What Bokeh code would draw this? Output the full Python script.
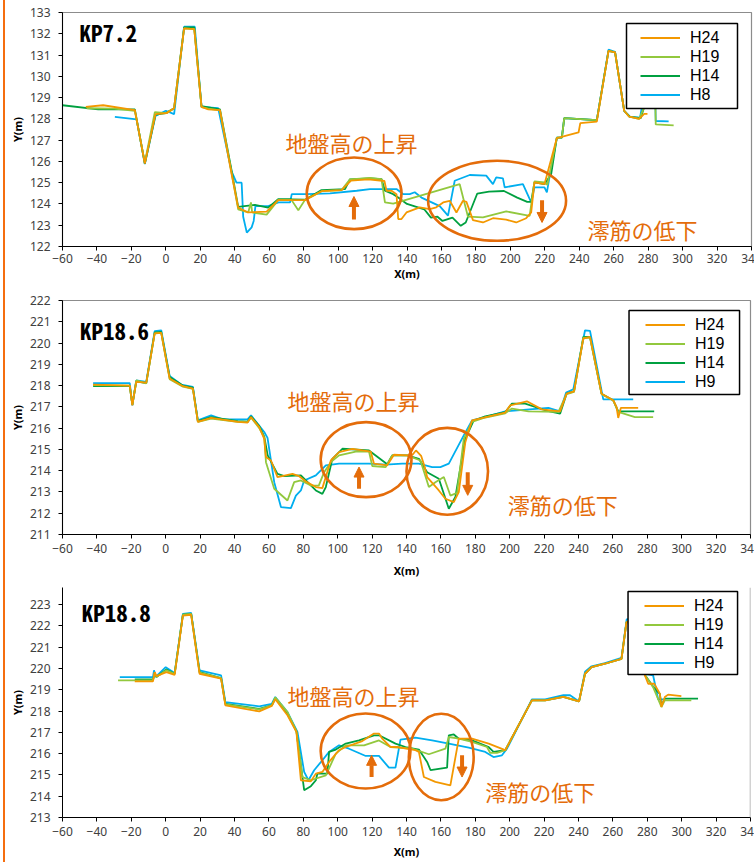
from bokeh.plotting import figure
from bokeh.models import (Range1d, SingleIntervalTicker, Label, Arrow, NormalHead,
                          Legend, LegendItem, BoxAnnotation, Span, Div)
from bokeh.layouts import row, column
from bokeh.embed import file_html
from bokeh.resources import INLINE

# ---- cross-section survey data: (X [m], elevation Y [m]) ----
KP72_H24 = [(-46.5,128.56),(-36.4,128.64),(-18,128.41),(-12.2,125.9),(-6,128.22),(0.4,128.27),(4.8,128.5),
            (10.6,132.25),(16.5,132.22),(20.7,128.56),(24.6,128.45),(31.4,128.41),(38.1,125.43),(42,123.83),
            (47.8,123.6),(58.5,123.64),(65.2,124.18),(80.7,124.18),(90.4,124.6),(102,124.65),(107.5,125.1),
            (117.5,125.16),(126.9,125.08),(128.1,124.62),(131,124.62),(133.9,124.46),(134.9,123.29),
            (136.8,123.29),(139.7,123.6),(147.4,123.84),(153.2,123.76),(157,123.84),(161,124.07),(164.8,124.15),
            (168.7,123.6),(172.5,124.15),(174.5,124.1),(178.3,123.24),(184.1,123.13),(189.9,123.33),
            (197.6,123.26),(203.4,123.13),(209.2,123.33),(212.1,123.6),(214,125.01),(219.8,124.93),(227,127.1),
            (239.6,127.36),(240.6,127.8),(250.2,127.87),(257,131.2),(260.8,131.12),(266.1,128.38),(269,128.1),
            (274.8,128.0),(277.7,128.23),(279.6,128.23)]
KP72_H19 = [(-46,128.5),(-30,128.48),(-18,128.38),(-12.2,125.95),(-6.4,128.32),(0.4,128.27),(4.8,128.5),
            (10.6,132.25),(16.5,132.22),(20.7,128.55),(24.6,128.48),(31.4,128.4),(38.1,125.5),(42,123.75),
            (47.8,123.6),(49.4,124.07),(50.1,123.6),(58.5,123.5),(65.2,124.18),(73,124.18),(76.9,123.7),
            (80.7,124.18),(90.4,124.6),(102,124.65),(106.9,125.16),(118.5,125.22),(125.2,125.17),(127.2,124.07),
            (132,124.02),(170.6,124.93),(175.4,123.4),(184.1,123.37),(197.6,123.65),(211.2,123.44),(214,125.06),
            (219.8,125.01),(221.5,124.9),(227,127.12),(229.9,127.12),(231.3,128.03),(250.2,127.94),(257,131.2),
            (260.8,131.12),(266.1,128.38),(269,128.1),(274.8,128.0),(278,128.6),(284.2,128.6),(284.4,127.74),
            (294.8,127.69)]
KP72_H14 = [(-60,128.64),(-39.3,128.45),(-18,128.45),(-12.2,125.9),(-6,128.2),(0,128.27),(4.8,128.5),
            (10.6,132.3),(16.5,132.3),(20.7,128.6),(31.4,128.45),(38.1,125.6),(42,123.86),(51.7,123.96),
            (59.4,123.83),(65.2,124.22),(73,124.22),(80.7,124.2),(90.4,124.65),(104,124.7),(106.9,125.16),
            (118.5,125.2),(125.2,125.17),(127.2,124.62),(132,124.46),(134.9,124.3),(140,124.0),(150,123.75),
            (153.9,123.36),(157.7,123.4),(160.6,123.2),(166.4,123.36),(171.2,122.97),(174.1,123.13),
            (180.8,124.49),(187.6,124.58),(196.3,124.61),(204,124.3),(209.8,124.1),(212.1,124.1),(214,125.01),
            (219.8,124.93),(223.7,125.4),(227,127.12),(229.9,127.12),(231.3,128.03),(250.2,127.94),(257,131.2),
            (260.8,131.12),(266.1,128.38),(269.5,128.09),(275.7,128.03),(278.2,128.7),(284,128.7)]
KP72_H8 = [(-29.6,128.09),(-17,127.98),(-12.2,125.87),(-6,128.14),(0,128.38),(4.8,128.22),(10.6,132.33),
           (16.8,132.33),(20.7,128.56),(30.4,128.5),(38.1,125.55),(41,125.0),(44,125.0),(44.9,123.4),
           (47,122.65),(49.8,122.9),(51,123.2),(52,123.9),(59.4,123.9),(65.4,124.07),(72.1,124.07),(73.1,124.46),
           (81.8,124.46),(95.3,124.5),(110.8,124.62),(118.5,124.7),(133.9,124.7),(137.8,124.46),(141.6,124.46),
           (144.5,124.55),(148.4,124.3),(159,123.9),(163.8,123.45),(167.7,125.09),(176.4,125.36),(186,125.33),
           (189.9,124.93),(191.8,125.25),(195.7,125.2),(196.7,124.78),(207.3,124.93),(212.1,124.07),
           (214,124.78),(219.8,124.78),(221.2,124.54),(222.7,125.25),(227,127.12),(229.9,127.12),(231.3,128.03),
           (250.2,127.94),(257,131.25),(260.8,131.15),(266.1,128.38),(269.5,128.09),(275.3,128.06),
           (276.5,128.62),(284.2,128.66),(284.4,127.9),(291.9,127.88)]

KP186_H24 = [(-42.2,218.05),(-20.9,218.0),(-19.4,217.07),(-17.1,218.17),(-11.3,218.14),(-6.4,220.45),
             (-2.6,220.48),(2.3,218.33),(10,217.97),(15.8,217.86),(18.7,216.29),(26.4,216.48),(41.9,216.29),
             (47.6,216.26),(49.6,216.52),(54.4,216.05),(57.3,215.5),(58.3,214.64),(61.2,214.48),(65,213.7),
             (73.7,213.85),(77.6,213.74),(81.5,213.49),(87.3,213.23),(91.1,213.18),(96,214.48),(100.8,214.87),
             (108.5,215.03),(119.2,214.9),(121.1,214.33),(128.8,214.25),(132.7,214.75),(140.4,214.72),
             (143.5,214.75),(145.5,214.95),(148.5,214.7),(150.5,214.2),(152,213.7),(158.8,213.07),
             (162.6,212.68),(167.5,212.52),(170.4,212.99),(174.2,215.34),(178.1,216.37),(197.4,216.73),
             (200.3,217.07),(210,217.26),(218.7,216.88),(229.3,216.79),(233.1,217.62),(237.4,217.73),
             (242.8,220.21),(246.7,220.29),(253.4,217.62),(260.2,217.31),(262.1,217.0),(263.1,216.48),
             (264.6,216.95),(274.7,216.95)]
KP186_H19 = [(-42.2,218.02),(-20.9,218.0),(-19.4,217.1),(-17.1,218.25),(-11.3,218.1),(-6.4,220.45),
             (-2.6,220.48),(2.3,218.3),(10,217.95),(15.8,217.85),(18.7,216.3),(26.4,216.45),(41.9,216.3),
             (47.6,216.28),(49.6,216.5),(54.4,216.0),(57.3,215.55),(58.3,214.4),(63.1,213.15),(70.8,212.6),
             (74.7,213.46),(78.6,213.54),(84.4,213.3),(89,213.3),(92.1,213.93),(96,214.4),(100.8,214.72),
             (110.5,214.9),(118.2,214.9),(120.1,214.22),(127.9,214.17),(131.7,214.72),(140.4,214.72),
             (148.1,214.48),(153,213.23),(156.8,213.46),(161.7,213.7),(165.5,212.83),(169.4,212.96),
             (173.3,215.5),(178.1,216.29),(185.8,216.5),(197.4,216.7),(201.3,216.92),(210.9,216.79),
             (228.3,216.76),(233.1,217.6),(237.4,217.7),(242.8,220.25),(246.7,220.25),(253.4,217.6),
             (260.2,217.3),(263.1,216.76),(272.8,216.52),(283.4,216.52)]
KP186_H14 = [(-42.2,217.98),(-20.9,217.98),(-19.4,217.1),(-17.1,218.2),(-11.3,218.12),(-6.4,220.5),
             (-2.6,220.52),(2.3,218.4),(10,218.0),(15.8,217.9),(18.7,216.33),(26.4,216.52),(41.9,216.33),
             (47.6,216.3),(49.6,216.55),(54.4,216.1),(57.3,215.6),(59.3,214.72),(65,213.85),(69,213.74),
             (78.6,213.78),(81.5,213.54),(87.3,213.07),(91.1,212.91),(93.1,213.23),(96.9,214.56),(102.7,215.03),
             (118.2,214.95),(128.8,214.3),(131.7,214.72),(140.4,214.72),(147.2,214.56),(152,213.93),
             (158.8,213.62),(164.6,212.21),(168.4,212.76),(174.2,215.5),(179.1,216.36),(185.8,216.55),
             (197.4,216.75),(201.3,217.15),(209,217.15),(220.6,216.84),(229.3,216.68),(233.1,217.62),
             (237.4,217.73),(242.8,220.29),(246.7,220.29),(253.4,217.62),(260.2,217.31),(263.1,216.79),
             (284,216.79)]
KP186_H9 = [(-42.2,218.12),(-20.9,218.12),(-19.4,217.07),(-17.1,218.25),(-11.3,218.17),(-6.4,220.56),
            (-2.6,220.6),(2.3,218.45),(9,218.05),(15.8,217.94),(18.7,216.37),(26.4,216.6),(33.2,216.41),
            (47.6,216.41),(49.6,216.6),(53.4,216.21),(57.3,215.82),(59.2,215.54),(63.1,213.46),(67,212.29),
            (72.8,212.24),(75.7,212.83),(78.6,213.07),(80.5,213.54),(87.3,213.78),(90.2,214.01),(93.1,214.25),
            (100.8,214.33),(118.2,214.33),(127.9,214.28),(137.5,214.33),(147.2,214.33),(154.9,214.17),
            (159.7,214.17),(164.6,214.33),(173.3,215.66),(178.1,216.36),(185.8,216.52),(197.4,216.79),
            (222.5,216.95),(229.3,216.79),(232.8,217.67),(237,217.83),(243.8,220.6),(246.7,220.57),
            (254.4,217.35),(271.8,217.35)]

KP188_H24 = [(-18,219.39),(-7.4,219.39),(-6.4,219.83),(-5.4,219.64),(0.4,219.83),(5.2,219.7),(10,222.48),
             (14.8,222.52),(19.7,219.75),(32.2,219.52),(34.7,218.27),(54.4,217.98),(61.7,218.24),(63.7,218.55),
             (70.8,217.8),(76,217.02),(78.6,214.75),(84.4,214.7),(87.3,215.06),(91.1,215.14),(95,215.61),
             (100.8,216.16),(104.7,216.31),(114.3,216.59),(121.1,216.94),(124,216.94),(125.9,216.7),
             (130.7,216.31),(134.6,216.31),(145.2,216.16),(147.2,216.08),(150.1,214.9),(156.8,214.67),
             (165.5,214.51),(170.4,216.7),(178.1,216.7),(187.8,216.47),(197.4,216.16),(212.9,218.5),
             (220.6,218.5),(231.2,218.66),(240.3,218.45),(243.8,219.75),(247.6,220.06),(255.4,220.22),
             (265,220.45),(267.9,222.17),(272,222.3),(277,220.2),(278.5,219.7),(280.5,219.28),(284,219.28),
             (287.3,218.81),(288.2,218.19),(290.2,218.66),(292.1,218.77),(299.8,218.7)]
KP188_H19 = [(-27.7,219.44),(-7.4,219.44),(-6.4,219.8),(-5.4,219.6),(0.4,219.91),(5.2,219.75),(10,222.52),
             (14.8,222.56),(19.7,219.8),(32.2,219.55),(34.7,218.31),(54.4,218.08),(61.7,218.27),(63.7,218.64),
             (70.8,217.95),(76,217.05),(79.5,214.9),(84.4,214.75),(93.1,214.98),(98.9,216.0),(104.7,216.39),
             (115.3,216.39),(124,216.62),(130.7,216.31),(143.3,216.23),(153,215.97),(162.6,216.23),
             (164.6,216.78),(170.4,216.7),(178.1,216.55),(186.8,216.31),(188.7,216.03),(192.6,216.03),
             (197.4,216.16),(212.9,218.5),(220.6,218.5),(231.2,218.66),(240.3,218.45),(243.8,219.75),
             (247.6,220.06),(255.4,220.22),(265,220.45),(267.9,222.17),(272,222.3),(277,220.2),(278.5,219.7),
             (283.5,219.1),(288.2,218.19),(290.2,218.5),(305.6,218.5)]
KP188_H14 = [(-18,219.48),(-7.4,219.48),(-6.4,219.75),(-5.4,219.6),(0.4,219.95),(5.2,219.75),(10,222.52),
             (14.8,222.56),(19.7,219.83),(32.2,219.55),(34.7,218.34),(54.4,218.1),(61.7,218.27),(63.7,218.61),
             (70.8,217.87),(76,217.05),(80.5,214.28),(84.4,214.47),(87.3,214.75),(88.2,215.06),(94,215.06),
             (95,216.08),(98.9,216.19),(104.7,216.47),(112.4,216.62),(121.1,216.86),(124,216.86),(133.6,216.47),
             (139.4,216.31),(147.2,216.19),(152,215.61),(154,215.22),(159.7,215.3),(163.6,215.34),
             (164.6,216.86),(167.5,216.9),(170.4,216.7),(178.1,216.62),(187.8,216.31),(190.6,216.08),
             (197.4,216.16),(212.9,218.5),(220.6,218.5),(231.2,218.66),(240.3,218.45),(243.8,219.75),
             (247.6,220.06),(255.4,220.22),(265,220.45),(267.9,222.17),(272,222.3),(277,220.2),(278.5,219.7),
             (284.3,219.05),(287.3,218.81),(288.2,218.27),(290.2,218.58),(309.5,218.58)]
KP188_H9 = [(-26.7,219.59),(-7.4,219.59),(-6.8,219.91),(-5.8,219.6),(0,220.06),(5.2,219.78),(10,222.56),
            (14.8,222.61),(19.7,219.91),(32.2,219.67),(34.7,218.42),(54.4,218.22),(61.7,218.34),(63.7,218.66),
            (70.8,217.95),(76.6,217.02),(80.5,215.14),(83,214.75),(86.3,215.22),(91.1,215.69),(95,216.08),
            (100.8,216.39),(106.6,216.23),(116.3,215.89),(124,215.89),(129.8,215.34),(133.6,215.34),
            (136.5,216.66),(145.2,216.75),(154.9,216.62),(164.6,216.47),(176.2,216.28),(185.8,216.08),
            (190.6,215.84),(195.5,215.92),(198.4,216.23),(212.9,218.55),(220.6,218.55),(231.2,218.75),
            (235.1,218.74),(240.3,218.45),(243.8,219.85),(247.6,220.1),(255.4,220.25),(265,220.5),(268,222.3),
            (273,222.4),(278.5,219.75),(283.4,219.67),(286.3,218.55),(290.2,218.55)]

SECTIONS = ["KP7.2", "KP18.6", "KP18.8"]
YEAR_LABELS = [["H24", "H19", "H14", "H8"], ["H24", "H19", "H14", "H9"], ["H24", "H19", "H14", "H9"]]
SERIES = [[KP72_H24, KP72_H19, KP72_H14, KP72_H8],
          [KP186_H24, KP186_H19, KP186_H14, KP186_H9],
          [KP188_H24, KP188_H19, KP188_H14, KP188_H9]]
Y_RANGES = [(122, 133), (211, 222), (213, 223.8)]

LINE_COLORS = ["#F39800", "#92C83E", "#00A040", "#00AEEF"]
NOTE = "#E46C0A"
RISE_TEXT = "地盤高の上昇"
FALL_TEXT = "澪筋の低下"

# per-panel layout: frame size/borders and annotation placement (data units)
LAYOUT = [
    dict(w=756, fh=234, top=12, bottom=40, left=56, right=11, outline=True, tick_gap=3, lab_gap=0,
         legend=(14, 11, 111, 85), title=(-50.1, 132.06),
         rise=(69.5, 126.92), fall=(244.8, 122.83),
         ell=[(109.3, 124.5, 55, 3.37), (192.3, 124.15, 80.1, 3.76)],
         up=(109.2, 123.27, 124.35), down=(218.4, 124.18, 123.13)),
    dict(w=755, fh=234, top=14, bottom=47, left=53, right=11, outline=True, tick_gap=5, lab_gap=7,
         legend=(11, 10, 111, 84), title=(-49.8, 220.59),
         rise=(70.8, 217.31), fall=(198.9, 212.45),
         ell=[(116.5, 214.52, 52.8, 3.53), (163.7, 213.97, 47.4, 4.08)],
         up=(112.4, 213.15, 214.17), down=(175.6, 213.93, 212.84)),
    dict(w=755, fh=230, top=6, bottom=45, left=53, right=11, outline=False, tick_gap=5, lab_gap=5,
         legend=(13, 4, 110, 83), title=(-48.8, 222.64),
         rise=(70.8, 218.73), fall=(185.8, 214.23),
         ell=[(116.2, 216.12, 52.2, 3.52), (160.2, 215.84, 37.7, 4.06)],
         up=(119.7, 214.9, 215.92), down=(172.3, 215.92, 214.9)),
]

X0, X1 = -60, 340


def make_panel(name, series, names, yr, lay):
    y0, y1 = yr
    fw = lay["w"] - lay["left"] - lay["right"]
    p = figure(width=lay["w"], height=lay["top"] + lay["fh"] + lay["bottom"],
               x_range=Range1d(X0, X1), y_range=Range1d(y0, y1),
               min_border_top=lay["top"], min_border_left=lay["left"],
               min_border_right=lay["right"], min_border_bottom=lay["bottom"],
               output_backend="svg", toolbar_location=None,
               background_fill_color="white", border_fill_color="white")
    p.xgrid.visible = False
    p.ygrid.visible = False
    if lay["outline"]:
        p.outline_line_color = "#8C8C8C"
        p.outline_line_width = 1.2
    else:
        p.outline_line_color = None
        p.add_layout(Span(location=X1, dimension="height", line_color="#A6A6A6", line_width=1.5))

    p.xaxis.ticker = SingleIntervalTicker(interval=20, num_minor_ticks=0)
    p.yaxis.ticker = SingleIntervalTicker(interval=1, num_minor_ticks=0)
    for ax in p.axis:
        ax.major_tick_in = 0
        ax.major_tick_out = 4
        ax.minor_tick_line_color = None
        ax.axis_line_color = "black"
        ax.major_tick_line_color = "black"
        ax.major_label_text_font = "Noto Sans"
        ax.major_label_text_font_size = "12px"
        ax.major_label_text_color = "#404040"
        ax.axis_label_text_font = "Noto Sans"
        ax.axis_label_text_font_size = "11px"
        ax.axis_label_text_font_style = "bold"
        ax.axis_label_text_color = "black"
    p.xaxis.axis_label = "X(m)"
    p.yaxis.axis_label = "Y(m)"
    p.xaxis.major_label_standoff = lay["tick_gap"]
    p.xaxis.axis_label_standoff = lay["lab_gap"]
    p.yaxis.major_label_standoff = 8
    p.yaxis.axis_label_standoff = 2

    pxx = fw / (X1 - X0)
    pxy = lay["fh"] / (y1 - y0)

    # survey lines: oldest first so the latest sits on top
    renderers = {}
    for pts, lbl, col in reversed(list(zip(series, names, LINE_COLORS))):
        xs = [q[0] for q in pts]
        ys = [q[1] for q in pts]
        renderers[lbl] = p.line(xs, ys, line_color=col, line_width=1.8)

    # annotations: ellipses, arrows, notes
    for cx, cy, w, h in lay["ell"]:
        p.ellipse(x=[cx], y=[cy], width=[w], height=[h], fill_color=None,
                  line_color=NOTE, line_width=2.6)
    for key in ("up", "down"):
        ax_, ys_, ye_ = lay[key]
        p.add_layout(Arrow(x_start=ax_, y_start=ys_, x_end=ax_, y_end=ye_,
                           line_color=NOTE, line_width=4,
                           end=NormalHead(size=10, fill_color=NOTE, line_color=NOTE, line_width=1)))
    for key, txt in (("rise", RISE_TEXT), ("fall", FALL_TEXT)):
        tx, ty = lay[key]
        p.add_layout(Label(x=tx, y=ty, text=txt, text_font="Noto Sans CJK JP",
                           text_font_size="22px", text_color=NOTE,
                           text_baseline="middle", text_align="left"))
    tx, ty = lay["title"]
    p.add_layout(Label(x=tx, y=ty, text=name, text_font="Noto Sans Mono CJK JP, DejaVu Sans Mono",
                       text_font_size="23px", text_font_style="bold", text_color="black",
                       text_baseline="middle", text_align="left"))

    # legend: white framed box with the entries placed inside it
    roff, toff, bw, bh = lay["legend"]
    right = X1 - roff / pxx
    left = right - bw / pxx
    top = y1 - toff / pxy
    bottom = top - bh / pxy
    p.add_layout(BoxAnnotation(left=left, right=right, top=top, bottom=bottom,
                               fill_color="white", fill_alpha=1.0,
                               line_color="black", line_width=1.5, line_alpha=1.0))
    row_h = 19
    lx = fw - roff - bw + 14
    ly = lay["fh"] - (toff + 14.7 - row_h / 2 + 4 * row_h)
    legend = Legend(items=[LegendItem(label=n, renderers=[renderers[n]]) for n in names],
                    location=(lx, ly), padding=0, margin=0, spacing=0,
                    glyph_width=40, glyph_height=row_h, label_height=row_h, label_standoff=10,
                    border_line_color=None, background_fill_alpha=0,
                    label_text_font="Liberation Sans", label_text_font_size="16px",
                    label_text_color="black")
    p.add_layout(legend)
    return p


panels = [make_panel(n, s, nm, yr, lay)
          for n, s, nm, yr, lay in zip(SECTIONS, SERIES, YEAR_LABELS, Y_RANGES, LAYOUT)]

edge = Div(text="", width=6, height=862, margin=0,
           styles={"background": "linear-gradient(90deg, #ffffff 0 3px, #F56E0F 3px 5px, #ffffff 5px)"})

page = row(edge, column(*panels, spacing=0), spacing=0)

html = file_html(page, INLINE, title="KP cross sections")
# the right-most tick label runs past the page edge; keep the page from scrolling
html = html.replace("<head>", "<head>\n<style>html, body { margin: 0; overflow: hidden; }</style>", 1)
with open("out.html", "w") as f:
    f.write(html)
